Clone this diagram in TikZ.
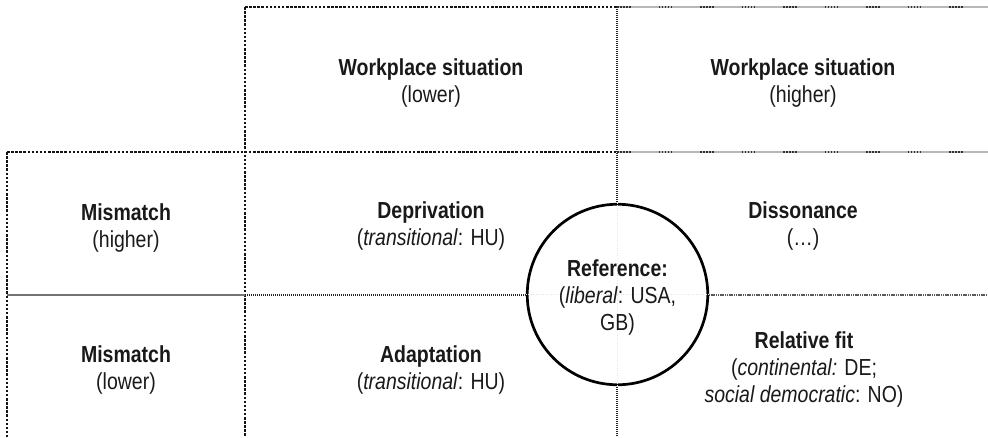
\documentclass[tikz,border=0pt]{standalone}
\usepackage{fontspec}
\setmainfont{Liberation Sans}[FakeStretch=0.84]
\begin{document}
\begin{tikzpicture}[x=1pt,y=-1pt,
  lbl/.style={align=center, anchor=base, inner sep=0pt, text=black!90,
     font=\fontsize{23.2}{27}\selectfont},
  thickdot/.style={line width=2.9pt, draw=black!92, dash pattern=on 2.5pt off 1.6pt},
  grayband/.style={line width=2.6pt, draw=black!28},
  graytick/.style={line width=2.6pt, draw=black!80, dash pattern=on 1.5pt off 1.5pt on 1.5pt off 1.5pt on 1.5pt off 1.5pt on 1.5pt off 1.5pt on 1.5pt off 28pt},
  thindot/.style={line width=1.2pt, draw=black!85, dash pattern=on 1pt off 1pt},
  midgray/.style={line width=1.4pt, draw=black!65, dash pattern=on 1.2pt off 0.6pt},
  solidgray/.style={line width=1.7pt, draw=black!55},
  faint/.style={line width=1pt, draw=black!10, dash pattern=on 1pt off 1.5pt},
  refcircle/.style={circle, draw=black, line width=2.7pt, fill=white, minimum size=180.5pt, inner sep=0pt}
]
\useasboundingbox (0,0) rectangle (988,437);
\coordinate (tl) at (245,7);
\coordinate (tm) at (617,7);
\coordinate (tr) at (988,7);
\coordinate (rl) at (7,152);
\coordinate (rc) at (245,152);
\coordinate (rm) at (617,152);
\coordinate (rr) at (988,152);
\coordinate (hl) at (7,295);
\coordinate (hc) at (245,295);
\coordinate (hm) at (617,295);
\coordinate (hr) at (988,295);
\coordinate (bl) at (7,437);
\coordinate (bc) at (245,437);
\coordinate (bm) at (617,437);

% grid lines
\draw[grayband] (tm) -- (tr);
\draw[graytick] (tm) -- (tr);
\draw[grayband] (rm) -- (rr);
\draw[graytick] (rm) -- (rr);
\draw[thickdot] (tl) -- (tm);
\draw[thickdot] (rl) -- (rm);
\draw[thickdot] (tl) -- (bc);
\draw[thickdot] (rl) -- (bl);
\draw[thindot] (tm) -- (bm);
\draw[solidgray] (hl) -- (hc);
\draw[thindot] (hc) -- (hm);
\draw[midgray] (hm) -- (hr);

% reference circle
\node[refcircle] (ref) at (617.5,294.5) {};
\draw[faint] (ref.north) -- (ref.south);
\draw[faint] (ref.west) -- (ref.east);

% labels (anchor = baseline of last line)
\node[lbl] (wsl) at (431,102) {\textbf{Workplace situation}\\(lower)};
\node[lbl] (wsh) at (803,102) {\textbf{Workplace situation}\\(higher)};
\node[lbl] (mmh) at (126,247) {\textbf{Mismatch}\\(higher)};
\node[lbl] (dep) at (431,245) {\textbf{Deprivation}\\(\textit{transitional}: HU)};
\node[lbl] (dis) at (803,245) {\textbf{Dissonance}\\(…)};
\node[lbl] (reft) at (617.5,330) {\textbf{Reference:}\\(\textit{liberal}: USA,\\GB)};
\node[lbl] (mml) at (126,389) {\textbf{Mismatch}\\(lower)};
\node[lbl] (ada) at (431,389) {\textbf{Adaptation}\\(\textit{transitional}: HU)};
\node[lbl] (rel) at (804,402) {\textbf{Relative fit}\\(\textit{continental:} DE;\\\textit{social democratic}: NO)};
\end{tikzpicture}
\end{document}
